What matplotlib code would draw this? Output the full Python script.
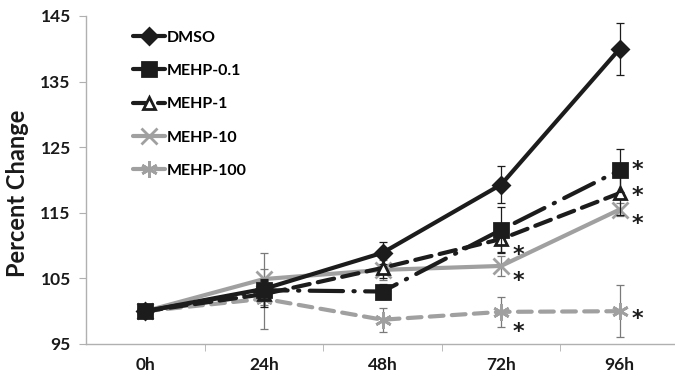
import matplotlib
matplotlib.use("Agg")
import matplotlib.pyplot as plt
from matplotlib.ticker import FixedLocator

# data
timepoints = ["0h", "24h", "48h", "72h", "96h"]
dmso = [100, 103.4, 108.9, 119.3, 140.0]
mehp_01 = [100, 103.2, 103.0, 112.4, 121.5]
mehp_1 = [100, 102.6, 106.6, 111.0, 118.0]
mehp_10 = [100, 104.9, 106.3, 106.9, 115.5]
mehp_100 = [100, 101.9, 98.7, 99.9, 100.0]

dmso_err = [0, 1.5, 1.7, 2.8, 4.0]
mehp_01_err = [0, 1.5, 1.2, 3.5, 3.3]
mehp_1_err = [0, 2.0, 1.5, 2.0, 3.3]
mehp_10_err = [0, 4.0, 1.5, 1.5, 1.0]
mehp_100_err = [0, 4.6, 1.8, 2.3, 4.0]

# significance stars: (series values, index, vertical shift in px, + is down)
stars = [
    (mehp_01, 4, -7),
    (mehp_1, 4, -4),
    (mehp_10, 4, 8),
    (mehp_100, 4, 1),
    (mehp_1, 3, 10),
    (mehp_10, 3, 9),
    (mehp_100, 3, 14),
]

black = "#1c1c1c"
grey = "#a0a0a0"

plt.rcParams["font.family"] = ["Lato", "DejaVu Sans"]
plt.rcParams["font.weight"] = "bold"

fig = plt.figure(figsize=(6.75, 3.81), dpi=100)
ax = fig.add_axes([86 / 675, 37 / 381, 593 / 675, 328 / 381])

x = list(range(len(timepoints)))

# (label, values, errors, color, marker, ms, mfc, dashes, zorder)
series = [
    ("DMSO", dmso, dmso_err, black, "D", 8.5, black, None, 6),
    ("MEHP-0.1", mehp_01, mehp_01_err, black, "s", 10, black, (8, 2.5, 0.3, 2.5), 5),
    ("MEHP-1", mehp_1, mehp_1_err, black, "^", 9, "white", (4, 2), 4),
    ("MEHP-10", mehp_10, mehp_10_err, grey, "x", 11, grey, None, 3),
    ("MEHP-100", mehp_100, mehp_100_err, grey, (6, 2, 0), 12, grey, (3.3, 2), 2),
]

for label, vals, err, col, mk, ms, mfc, dashes, z in series:
    ax.errorbar(x, vals, yerr=err, fmt="none", ecolor=col if col == black else "#7a7a7a",
                elinewidth=0.9, capsize=3, capthick=0.9, zorder=z - 0.5)
    line, = ax.plot(x, vals, color=col, lw=3, marker=mk, markersize=ms,
                    markerfacecolor=mfc, markeredgecolor=col, markeredgewidth=2,
                    label=label, zorder=z, solid_capstyle="round",
                    dash_capstyle="round")
    if dashes is not None:
        line.set_dashes(dashes)

star_fs = 16
for vals, i, dy in stars:
    # place glyph centre ~17 px right of the point; '*' sits ~0.56 em above baseline
    ax.annotate("*", (x[i], vals[i]), xytext=(12.5, -dy * 0.72 - 0.56 * star_fs),
                textcoords="offset points", fontsize=star_fs, fontweight="bold",
                color=black, va="baseline", ha="center", family="DejaVu Sans")

ax.set_xlim(-0.5, 4.5)
ax.set_ylim(95, 145)
ax.set_yticks([95, 105, 115, 125, 135, 145])
ax.set_xticks(x)
ax.set_xticklabels(timepoints)
ax.xaxis.set_minor_locator(FixedLocator([0.5, 1.5, 2.5, 3.5]))
ax.tick_params(axis="x", which="major", length=0, labelsize=12.5, pad=9)
ax.tick_params(axis="x", which="minor", length=5, color="#b0b0b0", direction="out")
ax.tick_params(axis="y", length=5, color="#b0b0b0", labelsize=12.5, pad=6)
for lab in ax.get_xticklabels() + ax.get_yticklabels():
    lab.set_fontweight("bold")
    lab.set_color("#1a1a1a")

for s in ["top", "right"]:
    ax.spines[s].set_visible(False)
for s in ["left", "bottom"]:
    ax.spines[s].set_color("#b0b0b0")
    ax.spines[s].set_linewidth(1)

ax.set_ylabel("Percent Change", fontsize=17, fontweight="bold", color="#1a1a1a")
ax.yaxis.set_label_coords(-0.096, 0.46)

ax.legend(loc="upper left", bbox_to_anchor=(0.055, 1.0), frameon=False,
          handlelength=2.0, handletextpad=0.1, labelspacing=1.2,
          prop={"weight": "bold", "size": 11.5})

fig.savefig("out.png", dpi=100)
